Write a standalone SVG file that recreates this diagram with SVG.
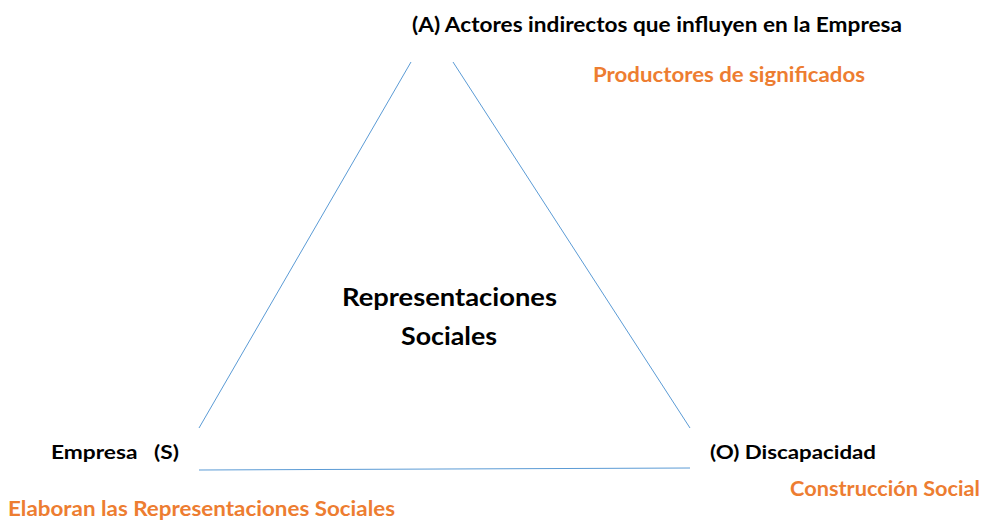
<svg xmlns="http://www.w3.org/2000/svg" width="982" height="520" viewBox="0 0 982 520">
<style>
.t{font-family:Lato,"Open Sans","Liberation Sans",sans-serif;font-weight:bold;fill:#000}
.o{fill:#ED7D31}
.c{stroke:#5B9BD5;stroke-width:1;fill:none}
</style>
<rect width="982" height="520" fill="#fff"/>
<g id="connectors">
<line class="c" x1="411" y1="62" x2="199" y2="428"/>
<line class="c" x1="453" y1="62" x2="690" y2="428"/>
<line class="c" x1="199" y1="470" x2="690" y2="468"/>
</g>
<g id="nodeA">
<text class="t" x="412" y="32" font-size="20" textLength="490" lengthAdjust="spacingAndGlyphs">(A) Actores indirectos que influyen en la Empresa</text>
<text class="t o" x="593" y="82" font-size="20" textLength="272" lengthAdjust="spacingAndGlyphs">Productores de significados</text>
</g>
<g id="center">
<text class="t" x="342" y="306" font-size="24" textLength="215" lengthAdjust="spacingAndGlyphs">Representaciones</text>
<text class="t" x="401" y="345" font-size="24" textLength="96" lengthAdjust="spacingAndGlyphs">Sociales</text>
</g>
<g id="nodeS">
<text class="t" x="51" y="459" font-size="19" textLength="128" lengthAdjust="spacingAndGlyphs" xml:space="preserve">Empresa   (S)</text>
<text class="t o" x="8" y="516" font-size="20" textLength="387" lengthAdjust="spacingAndGlyphs">Elaboran las Representaciones Sociales</text>
</g>
<g id="nodeO">
<text class="t" x="710" y="459" font-size="19" textLength="166" lengthAdjust="spacingAndGlyphs">(O) Discapacidad</text>
<text class="t o" x="790" y="496" font-size="20" textLength="190" lengthAdjust="spacingAndGlyphs">Construcción Social</text>
</g>
</svg>
